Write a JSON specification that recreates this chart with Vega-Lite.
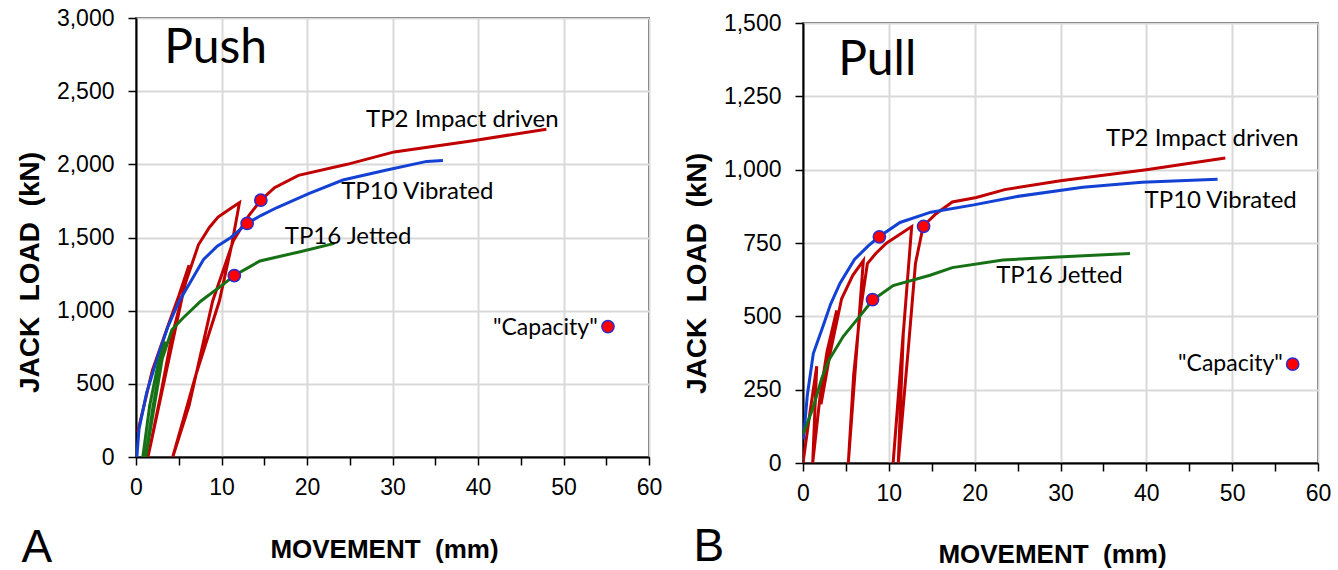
{
  "$schema": "https://vega.github.io/schema/vega-lite/v6.json",
  "padding": {"left": 15, "top": 6, "right": 5, "bottom": 0},
  "spacing": 19,
  "config": {
    "view": {"stroke": "black", "strokeWidth": 1.5},
    "axis": {
      "domainColor": "black", "domainWidth": 2, "tickColor": "black", "tickWidth": 1.5, "tickSize": 8,
      "labelFont": "Liberation Sans", "labelFontSize": 23, "labelColor": "black", "labelFlush": false, "labelOverlap": false,
      "titleFont": "Liberation Sans", "titleFontSize": 26, "titleFontWeight": "bold", "titleColor": "black",
      "gridColor": "#d9d9d9", "gridWidth": 2
    },
    "title": {"font": "Liberation Sans", "fontSize": 46, "fontWeight": "normal", "color": "black"}
  },
  "datasets": {
    "curves": [
      {"p":"push","s":"TP2","i":0,"x":0.2,"y":170},{"p":"push","s":"TP2","i":1,"x":1.9,"y":590},{"p":"push","s":"TP2","i":2,"x":3.7,"y":890},{"p":"push","s":"TP2","i":3,"x":5.0,"y":1100},{"p":"push","s":"TP2","i":4,"x":6.2,"y":1310},{"p":"push","s":"TP2","i":5,"x":1.4,"y":0},{"p":"push","s":"TP2","i":6,"x":2.8,"y":400},{"p":"push","s":"TP2","i":7,"x":4.1,"y":800},{"p":"push","s":"TP2","i":8,"x":5.8,"y":1190},{"p":"push","s":"TP2","i":9,"x":7.3,"y":1450},{"p":"push","s":"TP2","i":10,"x":8.6,"y":1570},{"p":"push","s":"TP2","i":11,"x":9.6,"y":1640},{"p":"push","s":"TP2","i":12,"x":11.1,"y":1700},{"p":"push","s":"TP2","i":13,"x":12.1,"y":1738},{"p":"push","s":"TP2","i":14,"x":11.2,"y":1450},{"p":"push","s":"TP2","i":15,"x":9.75,"y":1066},{"p":"push","s":"TP2","i":16,"x":7.0,"y":560},{"p":"push","s":"TP2","i":17,"x":4.3,"y":0},{"p":"push","s":"TP2","i":18,"x":6.2,"y":350},{"p":"push","s":"TP2","i":19,"x":8.97,"y":1066},{"p":"push","s":"TP2","i":20,"x":11.4,"y":1480},{"p":"push","s":"TP2","i":21,"x":13.2,"y":1650},{"p":"push","s":"TP2","i":22,"x":14.6,"y":1755},{"p":"push","s":"TP2","i":23,"x":16.2,"y":1840},{"p":"push","s":"TP2","i":24,"x":19.0,"y":1925},{"p":"push","s":"TP2","i":25,"x":24.7,"y":2000},{"p":"push","s":"TP2","i":26,"x":30.2,"y":2085},{"p":"push","s":"TP2","i":27,"x":39.2,"y":2160},{"p":"push","s":"TP2","i":28,"x":48.0,"y":2240},
      {"p":"push","s":"TP10","i":0,"x":0.1,"y":0},{"p":"push","s":"TP10","i":1,"x":0.35,"y":190},{"p":"push","s":"TP10","i":2,"x":1.25,"y":440},{"p":"push","s":"TP10","i":3,"x":2.5,"y":680},{"p":"push","s":"TP10","i":4,"x":3.7,"y":885},{"p":"push","s":"TP10","i":5,"x":5.0,"y":1060},{"p":"push","s":"TP10","i":6,"x":6.4,"y":1200},{"p":"push","s":"TP10","i":7,"x":7.9,"y":1350},{"p":"push","s":"TP10","i":8,"x":9.5,"y":1440},{"p":"push","s":"TP10","i":9,"x":11.1,"y":1500},{"p":"push","s":"TP10","i":10,"x":13.0,"y":1596},{"p":"push","s":"TP10","i":11,"x":14.6,"y":1650},{"p":"push","s":"TP10","i":12,"x":16.5,"y":1705},{"p":"push","s":"TP10","i":13,"x":20.2,"y":1800},{"p":"push","s":"TP10","i":14,"x":24.2,"y":1893},{"p":"push","s":"TP10","i":15,"x":29.2,"y":1960},{"p":"push","s":"TP10","i":16,"x":34.0,"y":2020},{"p":"push","s":"TP10","i":17,"x":35.9,"y":2027},
      {"p":"push","s":"TP16","i":0,"x":0.8,"y":0},{"p":"push","s":"TP16","i":1,"x":1.6,"y":350},{"p":"push","s":"TP16","i":2,"x":2.6,"y":640},{"p":"push","s":"TP16","i":3,"x":3.4,"y":790},{"p":"push","s":"TP16","i":4,"x":1.15,"y":0},{"p":"push","s":"TP16","i":5,"x":2.0,"y":350},{"p":"push","s":"TP16","i":6,"x":3.0,"y":660},{"p":"push","s":"TP16","i":7,"x":4.2,"y":870},{"p":"push","s":"TP16","i":8,"x":5.5,"y":950},{"p":"push","s":"TP16","i":9,"x":7.6,"y":1066},{"p":"push","s":"TP16","i":10,"x":10.2,"y":1180},{"p":"push","s":"TP16","i":11,"x":11.5,"y":1240},{"p":"push","s":"TP16","i":12,"x":14.5,"y":1340},{"p":"push","s":"TP16","i":13,"x":19.2,"y":1403},{"p":"push","s":"TP16","i":14,"x":23.2,"y":1460},
      {"p":"pull","s":"TP2","i":0,"x":0,"y":0},{"p":"pull","s":"TP2","i":1,"x":0.8,"y":170},{"p":"pull","s":"TP2","i":2,"x":1.6,"y":330},{"p":"pull","s":"TP2","i":3,"x":1.13,"y":0},{"p":"pull","s":"TP2","i":4,"x":2.0,"y":230},{"p":"pull","s":"TP2","i":5,"x":2.8,"y":380},{"p":"pull","s":"TP2","i":6,"x":3.93,"y":520},{"p":"pull","s":"TP2","i":7,"x":2.1,"y":200},{"p":"pull","s":"TP2","i":8,"x":3.2,"y":380},{"p":"pull","s":"TP2","i":9,"x":4.5,"y":560},{"p":"pull","s":"TP2","i":10,"x":5.8,"y":640},{"p":"pull","s":"TP2","i":11,"x":7.03,"y":690},{"p":"pull","s":"TP2","i":12,"x":5.28,"y":0},{"p":"pull","s":"TP2","i":13,"x":5.9,"y":300},{"p":"pull","s":"TP2","i":14,"x":6.6,"y":500},{"p":"pull","s":"TP2","i":15,"x":7.5,"y":680},{"p":"pull","s":"TP2","i":16,"x":8.5,"y":715},{"p":"pull","s":"TP2","i":17,"x":9.75,"y":750},{"p":"pull","s":"TP2","i":18,"x":11.3,"y":780},{"p":"pull","s":"TP2","i":19,"x":12.66,"y":806},{"p":"pull","s":"TP2","i":20,"x":10.5,"y":0},{"p":"pull","s":"TP2","i":21,"x":11.7,"y":452},{"p":"pull","s":"TP2","i":22,"x":11.1,"y":0},{"p":"pull","s":"TP2","i":23,"x":12.3,"y":400},{"p":"pull","s":"TP2","i":24,"x":13.1,"y":680},{"p":"pull","s":"TP2","i":25,"x":14.0,"y":807},{"p":"pull","s":"TP2","i":26,"x":15.5,"y":850},{"p":"pull","s":"TP2","i":27,"x":17.4,"y":890},{"p":"pull","s":"TP2","i":28,"x":20.2,"y":905},{"p":"pull","s":"TP2","i":29,"x":23.5,"y":932},{"p":"pull","s":"TP2","i":30,"x":30.0,"y":962},{"p":"pull","s":"TP2","i":31,"x":40.0,"y":1000},{"p":"pull","s":"TP2","i":32,"x":49.2,"y":1040},
      {"p":"pull","s":"TP10","i":0,"x":0.05,"y":80},{"p":"pull","s":"TP10","i":1,"x":0.5,"y":230},{"p":"pull","s":"TP10","i":2,"x":1.2,"y":373},{"p":"pull","s":"TP10","i":3,"x":2.3,"y":464},{"p":"pull","s":"TP10","i":4,"x":3.2,"y":540},{"p":"pull","s":"TP10","i":5,"x":4.3,"y":612},{"p":"pull","s":"TP10","i":6,"x":6.0,"y":694},{"p":"pull","s":"TP10","i":7,"x":7.6,"y":740},{"p":"pull","s":"TP10","i":8,"x":8.9,"y":772},{"p":"pull","s":"TP10","i":9,"x":11.3,"y":820},{"p":"pull","s":"TP10","i":10,"x":14.9,"y":855},{"p":"pull","s":"TP10","i":11,"x":19.9,"y":880},{"p":"pull","s":"TP10","i":12,"x":24.8,"y":908},{"p":"pull","s":"TP10","i":13,"x":32.6,"y":940},{"p":"pull","s":"TP10","i":14,"x":39.5,"y":957},{"p":"pull","s":"TP10","i":15,"x":48.3,"y":967},
      {"p":"pull","s":"TP16","i":0,"x":0.05,"y":100},{"p":"pull","s":"TP16","i":1,"x":1.2,"y":191},{"p":"pull","s":"TP16","i":2,"x":2.2,"y":290},{"p":"pull","s":"TP16","i":3,"x":3.0,"y":350},{"p":"pull","s":"TP16","i":4,"x":4.7,"y":432},{"p":"pull","s":"TP16","i":5,"x":6.6,"y":500},{"p":"pull","s":"TP16","i":6,"x":8.1,"y":555},{"p":"pull","s":"TP16","i":7,"x":10.5,"y":605},{"p":"pull","s":"TP16","i":8,"x":14.8,"y":640},{"p":"pull","s":"TP16","i":9,"x":17.4,"y":666},{"p":"pull","s":"TP16","i":10,"x":23.3,"y":692},{"p":"pull","s":"TP16","i":11,"x":29.7,"y":702},{"p":"pull","s":"TP16","i":12,"x":38.1,"y":714}
    ],
    "pts": [
      {"p":"push","x":11.5,"y":1240},{"p":"push","x":13.0,"y":1596},{"p":"push","x":14.6,"y":1755},{"p":"push","x":55.2,"y":891},
      {"p":"pull","x":8.9,"y":771},{"p":"pull","x":8.1,"y":557},{"p":"pull","x":14.05,"y":807},{"p":"pull","x":57.05,"y":337}
    ],
    "labels": [
      {"p":"push","k":"series","t":"TP2 Impact driven","x":26.9,"y":2302},
      {"p":"push","k":"series","t":"TP10 Vibrated","x":24.0,"y":1812},
      {"p":"push","k":"series","t":"TP16 Jetted","x":17.4,"y":1502},
      {"p":"push","k":"cap","t":"\"Capacity\"","x":54.0,"y":884},
      {"p":"push","k":"head","t":"Push","x":3.3,"y":2789},
      {"p":"pull","k":"series","t":"TP2 Impact driven","x":35.3,"y":1103},
      {"p":"pull","k":"series","t":"TP10 Vibrated","x":39.8,"y":893},
      {"p":"pull","k":"series","t":"TP16 Jetted","x":22.5,"y":636},
      {"p":"pull","k":"cap","t":"\"Capacity\"","x":55.9,"y":337},
      {"p":"pull","k":"head","t":"Pull","x":4.1,"y":1370}
    ]
  },
  "hconcat": [
    {
      "width": 513, "height": 439,
      "title": {"text": "A", "orient": "bottom", "anchor": "start", "frame": "bounds", "dx": 5, "dy": -40},
      "layer": [
        {
          "data": {"name": "curves"},
          "transform": [{"filter": "datum.p == 'push'"}],
          "mark": {"type": "line", "strokeWidth": 3, "clip": true},
          "encoding": {
            "x": {"field": "x", "type": "quantitative", "scale": {"domain": [0, 60], "nice": false},
              "axis": {"title": "MOVEMENT\u00a0 (mm)", "values": [0,5,10,15,20,25,30,35,40,45,50,55,60],
                "labelExpr": "datum.value % 10 == 0 ? datum.label : ''",
                "gridOpacity": {"condition": {"test": "datum.value % 10 == 0", "value": 1}, "value": 0},
                "labelPadding": 11, "titleX": 248, "titleY": 100, "titleBaseline": "alphabetic"}},
            "y": {"field": "y", "type": "quantitative", "scale": {"domain": [0, 3000], "nice": false},
              "axis": {"title": "JACK\u00a0 LOAD\u00a0 (kN)", "titleFontSize": 28, "values": [0,250,500,750,1000,1250,1500,1750,2000,2250,2500,2750,3000],
                "labelExpr": "datum.value % 500 == 0 ? format(datum.value, ',') : ''",
                "gridOpacity": {"condition": {"test": "datum.value % 500 == 0", "value": 1}, "value": 0},
                "labelPadding": 14, "titlePadding": 12, "titleY": 254}},
            "color": {"field": "s", "type": "nominal", "scale": {"domain": ["TP2", "TP10", "TP16"], "range": ["#c00000", "#1241d4", "#167016"]}, "legend": null},
            "detail": {"field": "s"},
            "order": {"field": "i", "type": "quantitative"}
          }
        },
        {
          "data": {"name": "pts"},
          "transform": [{"filter": "datum.p == 'push'"}],
          "mark": {"type": "point", "filled": true, "fill": "#ff0000", "stroke": "#2b2bd0", "strokeWidth": 1.5, "size": 150, "opacity": 1},
          "encoding": {"x": {"field": "x", "type": "quantitative"}, "y": {"field": "y", "type": "quantitative"}}
        },
        {
          "data": {"name": "labels"},
          "transform": [{"filter": "datum.p == 'push' && datum.k == 'series'"}],
          "mark": {"type": "text", "align": "left", "baseline": "middle", "font": "Lato", "fontSize": 24, "color": "black"},
          "encoding": {"x": {"field": "x", "type": "quantitative"}, "y": {"field": "y", "type": "quantitative"}, "text": {"field": "t"}}
        },
        {
          "data": {"name": "labels"},
          "transform": [{"filter": "datum.p == 'push' && datum.k == 'cap'"}],
          "mark": {"type": "text", "align": "right", "baseline": "middle", "font": "Lato", "fontSize": 23, "color": "black"},
          "encoding": {"x": {"field": "x", "type": "quantitative"}, "y": {"field": "y", "type": "quantitative"}, "text": {"field": "t"}}
        },
        {
          "data": {"name": "labels"},
          "transform": [{"filter": "datum.p == 'push' && datum.k == 'head'"}],
          "mark": {"type": "text", "align": "left", "baseline": "middle", "font": "Lato", "fontSize": 48, "color": "black"},
          "encoding": {"x": {"field": "x", "type": "quantitative"}, "y": {"field": "y", "type": "quantitative"}, "text": {"field": "t"}}
        }
      ]
    },
    {
      "spacing": -8,
      "vconcat": [
        {
          "width": 515, "height": 1,
          "view": {"stroke": null},
          "data": {"values": []},
          "mark": {"type": "text"},
          "encoding": {}
        },
        {
          "width": 515, "height": 440,
          "title": {"text": "B", "orient": "bottom", "anchor": "start", "frame": "bounds", "dx": 10, "dy": -46},
          "layer": [
            {
              "data": {"name": "curves"},
              "transform": [{"filter": "datum.p == 'pull'"}],
              "mark": {"type": "line", "strokeWidth": 3, "clip": true},
              "encoding": {
                "x": {"field": "x", "type": "quantitative", "scale": {"domain": [0, 60], "nice": false},
                  "axis": {"title": "MOVEMENT\u00a0 (mm)", "values": [0,5,10,15,20,25,30,35,40,45,50,55,60],
                    "labelExpr": "datum.value % 10 == 0 ? datum.label : ''",
                    "gridOpacity": {"condition": {"test": "datum.value % 10 == 0", "value": 1}, "value": 0},
                    "labelPadding": 11, "titleX": 249, "titleY": 99, "titleBaseline": "alphabetic"}},
                "y": {"field": "y", "type": "quantitative", "scale": {"domain": [0, 1500], "nice": false},
                  "axis": {"title": "JACK\u00a0 LOAD\u00a0 (kN)", "titleFontSize": 28, "values": [0,125,250,375,500,625,750,875,1000,1125,1250,1375,1500],
                    "labelExpr": "datum.value % 250 == 0 ? format(datum.value, ',') : ''",
                    "gridOpacity": {"condition": {"test": "datum.value % 250 == 0", "value": 1}, "value": 0},
                    "labelPadding": 14, "titlePadding": 12, "titleY": 250}},
                "color": {"field": "s", "type": "nominal", "scale": {"domain": ["TP2", "TP10", "TP16"], "range": ["#c00000", "#1241d4", "#167016"]}, "legend": null},
                "detail": {"field": "s"},
                "order": {"field": "i", "type": "quantitative"}
              }
            },
            {
              "data": {"name": "pts"},
              "transform": [{"filter": "datum.p == 'pull'"}],
              "mark": {"type": "point", "filled": true, "fill": "#ff0000", "stroke": "#2b2bd0", "strokeWidth": 1.5, "size": 150, "opacity": 1},
              "encoding": {"x": {"field": "x", "type": "quantitative"}, "y": {"field": "y", "type": "quantitative"}}
            },
            {
              "data": {"name": "labels"},
              "transform": [{"filter": "datum.p == 'pull' && datum.k == 'series'"}],
              "mark": {"type": "text", "align": "left", "baseline": "middle", "font": "Lato", "fontSize": 24, "color": "black"},
              "encoding": {"x": {"field": "x", "type": "quantitative"}, "y": {"field": "y", "type": "quantitative"}, "text": {"field": "t"}}
            },
            {
              "data": {"name": "labels"},
              "transform": [{"filter": "datum.p == 'pull' && datum.k == 'cap'"}],
              "mark": {"type": "text", "align": "right", "baseline": "middle", "font": "Lato", "fontSize": 23, "color": "black"},
              "encoding": {"x": {"field": "x", "type": "quantitative"}, "y": {"field": "y", "type": "quantitative"}, "text": {"field": "t"}}
            },
            {
              "data": {"name": "labels"},
              "transform": [{"filter": "datum.p == 'pull' && datum.k == 'head'"}],
              "mark": {"type": "text", "align": "left", "baseline": "middle", "font": "Lato", "fontSize": 48, "color": "black"},
              "encoding": {"x": {"field": "x", "type": "quantitative"}, "y": {"field": "y", "type": "quantitative"}, "text": {"field": "t"}}
            }
          ]
        }
      ]
    }
  ]
}
